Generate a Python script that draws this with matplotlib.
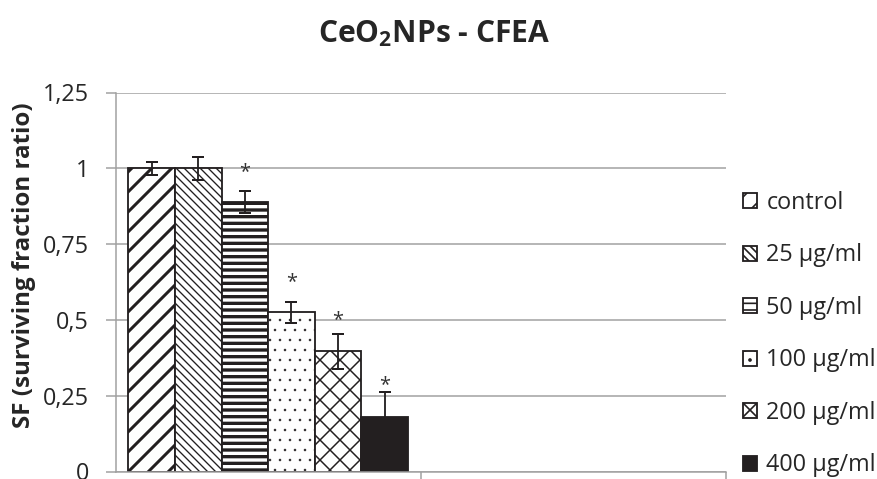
import matplotlib as mpl
import matplotlib.pyplot as plt
import numpy as np

# data
labels = ["control", "25 µg/ml", "50 µg/ml", "100 µg/ml", "200 µg/ml", "400 µg/ml"]
sf = [1.0, 1.0, 0.888, 0.525, 0.396, 0.18]
sf_err = [0.021, 0.037, 0.036, 0.035, 0.057, 0.081]
# asterisks (significance) : which bar and height of the star
star_bars = [2, 3, 4, 5]
star_y = [1.011, 0.648, 0.525, 0.309]
yticks = [0, 0.25, 0.5, 0.75, 1, 1.25]
ytick_labels = ["0", "0,25", "0,5", "0,75", "1", "1,25"]

# styles for each bar
hatches = ["//", "\\\\\\\\\\", "---", "..", "xx", ""]
hatch_lw = [1.8, 0.8, 2.0, 0.3, 0.9, 1.0]
faces = ["white", "white", "white", "white", "white", "#231f20"]

plt.rcParams['font.family'] = ['Open Sans', 'DejaVu Sans']
plt.rcParams['mathtext.fontset'] = 'custom'
plt.rcParams['mathtext.rm'] = 'Open Sans'
plt.rcParams['mathtext.bf'] = 'Open Sans:bold'
plt.rcParams['mathtext.it'] = 'Open Sans:italic'

DPI = 120
fig = plt.figure(figsize=(877 / DPI, 479 / DPI), dpi=DPI)
ax = fig.add_axes([115.5 / 877, 7.5 / 479, 610.5 / 877, 379 / 479])

w = 0.1525
for i in range(len(sf)):
    mpl.rcParams['hatch.linewidth'] = hatch_lw[i]
    b = ax.bar((i - 2.5) * w, sf[i], width=w, color=faces[i], edgecolor='#231f20',
               linewidth=1.1, hatch=hatches[i], label=labels[i], zorder=2)
    for p in b:
        if hasattr(p, 'set_hatch_linewidth'):
            p.set_hatch_linewidth(hatch_lw[i])

xs = (np.arange(len(sf)) - 2.5) * w
ax.errorbar(xs, sf, yerr=sf_err, fmt='none', ecolor='#231f20', elinewidth=1.1,
            capsize=3.6, capthick=1.2, zorder=3)

for bi, yy in zip(star_bars, star_y):
    ax.annotate("*", (xs[bi], yy), xytext=(0, -7.5), textcoords='offset points',
                ha='center', va='baseline', fontsize=12, color='#333333')

ax.set_xlim(-0.5, 1.5)
ax.set_ylim(0, 1.25)
ax.set_yticks(yticks)
ax.set_yticklabels(ytick_labels)
ax.set_xticks([0.5, 1.5])
ax.set_xticklabels([])
ax.yaxis.grid(True, color='#a0a0a0', linewidth=0.9, zorder=0)
ax.set_axisbelow(True)
for s in ['top', 'right']:
    ax.spines[s].set_visible(False)
for s in ['left', 'bottom']:
    ax.spines[s].set_color('#a0a0a0')
    ax.spines[s].set_linewidth(0.9)
ax.tick_params(axis='y', length=6, width=0.9, color='#a0a0a0', pad=10,
               labelsize=14, labelcolor='#262626')
ax.tick_params(axis='x', length=5, width=0.9, color='#a0a0a0')

fig.text(0.495, 1 - 42 / 479, r'CeO$_\mathbf{2}$NPs - CFEA', ha='center', va='baseline',
         fontsize=18, fontweight='bold', color='#262626')
fig.text(24 / 877, 1 - 265 / 479, 'SF (surviving fraction ratio)', rotation=90,
         ha='center', va='center', fontsize=14.5, fontweight='bold', color='#262626')

fig.legend(loc='upper left', bbox_to_anchor=(743 / 877, 1 - 191 / 479), frameon=False,
           fontsize=14, handlelength=0.6, handleheight=0.6, handletextpad=0.4,
           labelspacing=1.22, borderpad=0, borderaxespad=0, labelcolor='#262626')

fig.savefig('out.png', dpi=DPI)
